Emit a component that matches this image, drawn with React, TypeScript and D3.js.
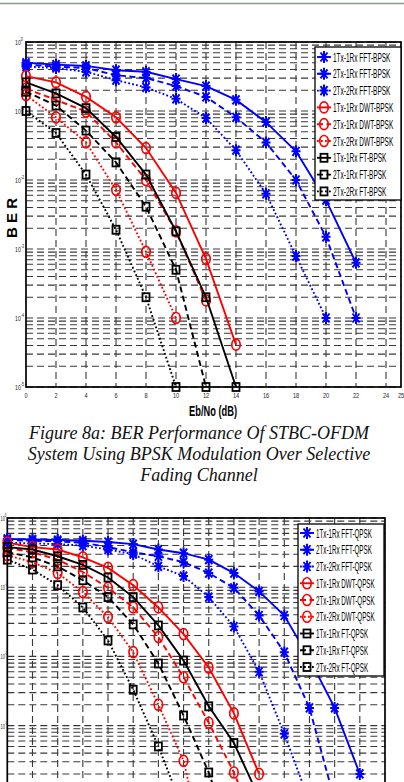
import React from 'react';
import * as d3 from 'd3';

// ---------- DATA ----------
const labelsBPSK = [
  '1Tx-1Rx FFT-BPSK', '2Tx-1Rx FFT-BPSK', '2Tx-2Rx FFT-BPSK',
  '1Tx-1Rx DWT-BPSK', '2Tx-1Rx DWT-BPSK', '2Tx-2Rx DWT-BPSK',
  '1Tx-1Rx FT-BPSK', '2Tx-1Rx FT-BPSK', '2Tx-2Rx FT-BPSK',
];
const labelsQPSK = [
  '1Tx-1Rx FFT-QPSK', '2Tx-1Rx FFT-QPSK', '2Tx-2Rx FFT-QPSK',
  '1Tx-1Rx DWT-QPSK', '2Tx-1Rx DWT-QPSK', '2Tx-2Rx DWT-QPSK',
  '1Tx-1Rx FT-QPSK', '2Tx-1Rx FT-QPSK', '2Tx-2Rx FT-QPSK',
];

// BPSK (Eb/No in dB, BER)
const bpskFFT1x = [0, 2, 4, 6, 8, 10, 12, 14, 16, 18, 20, 22];
const bpskFFT1 = [0.50, 0.47, 0.45, 0.39, 0.37, 0.29, 0.23, 0.145, 0.069, 0.026, 0.0051, 0.00063];
const bpskFFT2x = [0, 2, 4, 6, 8, 10, 12, 14, 16, 18, 20, 22];
const bpskFFT2 = [0.47, 0.44, 0.42, 0.33, 0.30, 0.23, 0.16, 0.081, 0.035, 0.010, 0.0015, 0.0001];
const bpskFFT3x = [0, 2, 4, 6, 8, 10, 12, 14, 16, 18, 20];
const bpskFFT3 = [0.44, 0.42, 0.37, 0.28, 0.22, 0.15, 0.079, 0.027, 0.0063, 0.00079, 0.0001];
const bpskDWT1x = [0, 2, 4, 6, 8, 10, 12, 14];
const bpskDWT1 = [0.32, 0.26, 0.16, 0.081, 0.029, 0.0065, 0.00072, 0.000041];
const bpskDWT2x = [0, 2, 4, 6, 8, 10, 12];
const bpskDWT2 = [0.21, 0.145, 0.098, 0.035, 0.010, 0.0018, 0.00018];
const bpskDWT3x = [0, 2, 4, 6, 8, 10];
const bpskDWT3 = [0.17, 0.081, 0.035, 0.0072, 0.00091, 0.0001];
const bpskFT1x = [0, 2, 4, 6, 8, 10, 12, 14];
const bpskFT1 = [0.26, 0.18, 0.11, 0.042, 0.012, 0.0018, 0.0002, 0.00001];
const bpskFT2x = [0, 2, 4, 6, 8, 10, 12];
const bpskFT2 = [0.19, 0.12, 0.052, 0.018, 0.0041, 0.0005, 0.00001];
const bpskFT3x = [0, 2, 4, 6, 8, 10];
const bpskFT3 = [0.10, 0.048, 0.012, 0.0019, 0.0002, 0.00001];

// QPSK
const qpskFFT1x = [0, 2, 4, 6, 8, 10, 12, 14, 16, 18, 20, 22, 24, 26, 28];
const qpskFFT1 = [0.50, 0.49, 0.48, 0.47, 0.45, 0.42, 0.35, 0.31, 0.25, 0.16, 0.087, 0.039, 0.0093, 0.0018, 0.0002];
const qpskFFT2x = [0, 2, 4, 6, 8, 10, 12, 14, 16, 18, 20, 22, 24, 26];
const qpskFFT2 = [0.48, 0.47, 0.46, 0.44, 0.38, 0.32, 0.28, 0.23, 0.16, 0.098, 0.039, 0.0115, 0.0018, 0.000083];
const qpskFFT3x = [0, 2, 4, 6, 8, 10, 12, 14, 16, 18, 20, 22, 24];
const qpskFFT3 = [0.44, 0.43, 0.42, 0.40, 0.35, 0.30, 0.20, 0.145, 0.072, 0.027, 0.006, 0.00076, 0.000079];
const qpskDWT1x = [0, 2, 4, 6, 8, 10, 12, 14, 16, 18, 20];
const qpskDWT1 = [0.44, 0.38, 0.35, 0.27, 0.19, 0.107, 0.051, 0.021, 0.0069, 0.0015, 0.0002];
const qpskDWT2x = [0, 2, 4, 6, 8, 10, 12, 14, 16, 18, 20];
const qpskDWT2 = [0.37, 0.32, 0.25, 0.166, 0.098, 0.051, 0.019, 0.005, 0.0011, 0.00021, 0.000027];
const qpskDWT3x = [0, 2, 4, 6, 8, 10, 12, 14, 16];
const qpskDWT3 = [0.29, 0.23, 0.16, 0.085, 0.037, 0.0115, 0.002, 0.00031, 0.0000079];
const qpskFT1x = [0, 2, 4, 6, 8, 10, 12, 14, 16, 18, 20];
const qpskFT1 = [0.38, 0.35, 0.28, 0.21, 0.138, 0.072, 0.028, 0.0087, 0.0019, 0.00056, 0.000091];
const qpskFT2x = [0, 2, 4, 6, 8, 10, 12, 14, 16, 18];
const qpskFT2 = [0.32, 0.27, 0.20, 0.126, 0.072, 0.029, 0.0079, 0.0014, 0.00021, 0.000017];
const qpskFT3x = [0, 2, 4, 6, 8, 10, 12, 14];
const qpskFT3 = [0.25, 0.18, 0.107, 0.051, 0.017, 0.0033, 0.0005, 0.000059];

const xTicksBPSK = [0, 2, 4, 6, 8, 10, 12, 14, 16, 18, 20, 22, 24, 25];
const xTicksQPSK = [0, 2, 4, 6, 8, 10, 12, 14, 16, 18, 20, 22, 24, 26, 28, 30];
const yDecades = [0, -1, -2, -3, -4, -5];
const captionLines = [
  'Figure 8a: BER Performance Of STBC-OFDM',
  'System Using BPSK Modulation Over Selective',
  'Fading Channel',
];

// ---------- STYLES ----------
const colors = ['#0000ff', '#0000ff', '#0000ff', '#ff0000', '#ff0000', '#ff0000', '#000000', '#000000', '#000000'];
const dashes = ['none', '6,3.5', '1.8,2.2', 'none', '6,3.5', '1.8,2.2', 'none', '6,3.5', '1.8,2.2'];
const markers = ['star', 'star', 'star', 'circle', 'circle', 'circle', 'square', 'square', 'square'];

type Series = { x: number[]; y: number[]; label: string; color: string; dash: string; marker: string };

function build(labels: string[], xs: number[][], ys: number[][]): Series[] {
  return labels.map((label, i) => ({ label, x: xs[i], y: ys[i], color: colors[i], dash: dashes[i], marker: markers[i] }));
}

const bpskSeries = build(labelsBPSK,
  [bpskFFT1x, bpskFFT2x, bpskFFT3x, bpskDWT1x, bpskDWT2x, bpskDWT3x, bpskFT1x, bpskFT2x, bpskFT3x],
  [bpskFFT1, bpskFFT2, bpskFFT3, bpskDWT1, bpskDWT2, bpskDWT3, bpskFT1, bpskFT2, bpskFT3]);
const qpskSeries = build(labelsQPSK,
  [qpskFFT1x, qpskFFT2x, qpskFFT3x, qpskDWT1x, qpskDWT2x, qpskDWT3x, qpskFT1x, qpskFT2x, qpskFT3x],
  [qpskFFT1, qpskFFT2, qpskFFT3, qpskDWT1, qpskDWT2, qpskDWT3, qpskFT1, qpskFT2, qpskFT3]);

function Marker({ kind, x, y, color }: { kind: string; x: number; y: number; color: string }) {
  if (kind === 'star') {
    const d = `M${x},${y - 6}L${x},${y + 6}M${x - 4.5},${y}L${x + 4.5},${y}M${x - 3.5},${y - 4.5}L${x + 3.5},${y + 4.5}M${x - 3.5},${y + 4.5}L${x + 3.5},${y - 4.5}`;
    return <path d={d} stroke={color} strokeWidth={2} fill="none" />;
  }
  if (kind === 'circle') {
    return <ellipse cx={x} cy={y} rx={4.2} ry={5.5} stroke={color} strokeWidth={1.7} fill="none" />;
  }
  return <rect x={x - 3.5} y={y - 4} width={7} height={8} stroke={color} strokeWidth={1.8} fill="none" />;
}

type ChartProps = {
  series: Series[];
  xMax: number;
  xLeft: number;
  xRight: number;
  yTop: number;
  decadePx: number;
  xTicks: number[];
  gridX: number[];
  legend: { x: number; y: number; w: number; h: number; first: number; step: number; scale: number };
  showXLabels: boolean;
  yLabelX: number;
  yLabelY: number;
  tickLabelLeft: number;
  tickScale: number;
  visibleBottom: number;
};

function Chart(p: ChartProps) {
  const x = d3.scaleLinear().domain([0, p.xMax]).range([p.xLeft, p.xRight]);
  const y = d3.scaleLog().domain([1, 1e-5]).range([p.yTop, p.yTop + 5 * p.decadePx]);
  const yBottom = y(1e-5);
  const minor: number[] = [];
  for (let e = -5; e < 0; e++) for (let m = 2; m <= 9; m++) minor.push(m * Math.pow(10, e));
  const line = d3.line<[number, number]>().x(d => x(d[0])).y(d => y(d[1]));
  const L = p.legend;
  return (
    <g>
      {/* grid */}
      {[...yDecades.map(e => Math.pow(10, e)), ...minor].map((v, i) => (
        <line key={'h' + i} x1={p.xLeft} x2={p.xRight} y1={y(v)} y2={y(v)} stroke="#383838" strokeWidth={1.1} strokeDasharray="7,4" />
      ))}
      {p.gridX.map((t, i) => (
        <line key={'v' + i} x1={x(t)} x2={x(t)} y1={p.yTop} y2={yBottom} stroke="#383838" strokeWidth={1.1} strokeDasharray="7,4" />
      ))}
      {/* frame */}
      <rect x={p.xLeft} y={p.yTop} width={p.xRight - p.xLeft} height={yBottom - p.yTop} fill="none" stroke="#000" strokeWidth={1.7} />
      {/* x tick labels */}
      {p.showXLabels && p.xTicks.map((t, i) => (
        <text key={'xt' + i} transform={`translate(${x(t)},${yBottom + 11}) scale(0.7,1)`} textAnchor="middle" fontSize={8} fontFamily="Liberation Sans, Arial, sans-serif" fill="#222">{t}</text>
      ))}
      {/* y tick labels */}
      {yDecades.filter(e => y(Math.pow(10, e)) + 4 < p.visibleBottom).map((e, i) => (
        <text key={'yt' + i} transform={`translate(${p.tickLabelLeft},${y(Math.pow(10, e)) + 3}) scale(${p.tickScale},1)`} fontSize={7} fontFamily="Liberation Sans, Arial, sans-serif" fill="#222">
          10<tspan dy={-4} fontSize={5}>{e}</tspan>
        </text>
      ))}
      {/* y label */}
      <text transform={`translate(${p.yLabelX},${p.yLabelY}) rotate(-90)`} textAnchor="middle" fontSize={15} fontWeight="bold" fontFamily="Liberation Sans, Arial, sans-serif" fill="#000">B E R</text>
      {/* series */}
      {p.series.map((s, i) => {
        const pts: [number, number][] = s.x.map((xx, j) => [xx, s.y[j]]);
        return (
          <g key={'s' + i}>
            <path d={line(pts) || ''} fill="none" stroke={s.color} strokeWidth={1.9} strokeDasharray={s.dash} />
            {pts.map((d, j) => <Marker key={j} kind={s.marker} x={x(d[0])} y={y(d[1])} color={s.color} />)}
          </g>
        );
      })}
      {/* legend */}
      <rect x={L.x} y={L.y} width={L.w} height={L.h} fill="#fff" stroke="#000" strokeWidth={1.3} />
      {p.series.map((s, i) => {
        const ly = L.first + i * L.step;
        return (
          <g key={'l' + i}>
            <line x1={L.x + 2} x2={L.x + 16} y1={ly} y2={ly} stroke={s.color} strokeWidth={1.9} strokeDasharray={s.dash} />
            <Marker kind={s.marker} x={L.x + 9} y={ly} color={s.color} />
            <text transform={`translate(${L.x + 18},${ly + 4.5}) scale(${L.scale},1)`} fontSize={12.5} fontFamily="Liberation Sans, Arial, sans-serif" fill="#000">{s.label}</text>
          </g>
        );
      })}
    </g>
  );
}

export default function App() {
  return (
    <svg width={404} height={782} style={{ position: 'absolute', left: 0, top: 0, background: '#fff' }}>
      <rect x={0} y={0} width={404} height={782} fill="#fff" />
      <line x1={0} x2={404} y1={3.5} y2={3.5} stroke="#8a9a8a" strokeWidth={1.6} />
      <Chart
        series={bpskSeries}
        xMax={25} xLeft={26} xRight={401} yTop={42} decadePx={69}
        xTicks={xTicksBPSK}
        gridX={xTicksBPSK.filter(t => t > 0 && t < 25)}
        legend={{ x: 315, y: 47, w: 86, h: 153, first: 57, step: 16.8, scale: 0.52 }}
        showXLabels={true}
        yLabelX={17} yLabelY={218}
        tickLabelLeft={15} tickScale={0.75}
        visibleBottom={782}
      />
      <text transform="translate(213,416) scale(0.62,1)" textAnchor="middle" fontSize={15} fontWeight="bold" fontFamily="Liberation Sans, Arial, sans-serif" fill="#000">Eb/No (dB)</text>
      {captionLines.map((t, i) => (
        <text key={i} x={199} y={439 + i * 21} textAnchor="middle" fontSize={18} fontStyle="italic" fontFamily="Liberation Serif, Times New Roman, serif" fill="#111">{t}</text>
      ))}
      <Chart
        series={qpskSeries}
        xMax={30} xLeft={7.3} xRight={385} yTop={518} decadePx={69.2}
        xTicks={xTicksQPSK}
        gridX={xTicksQPSK.filter(t => t > 0 && t < 30)}
        legend={{ x: 298, y: 524, w: 86, h: 152, first: 533, step: 16.75, scale: 0.5 }}
        showXLabels={false}
        yLabelX={-2} yLabelY={690}
        tickLabelLeft={0.5} tickScale={0.55}
        visibleBottom={782}
      />
    </svg>
  );
}
